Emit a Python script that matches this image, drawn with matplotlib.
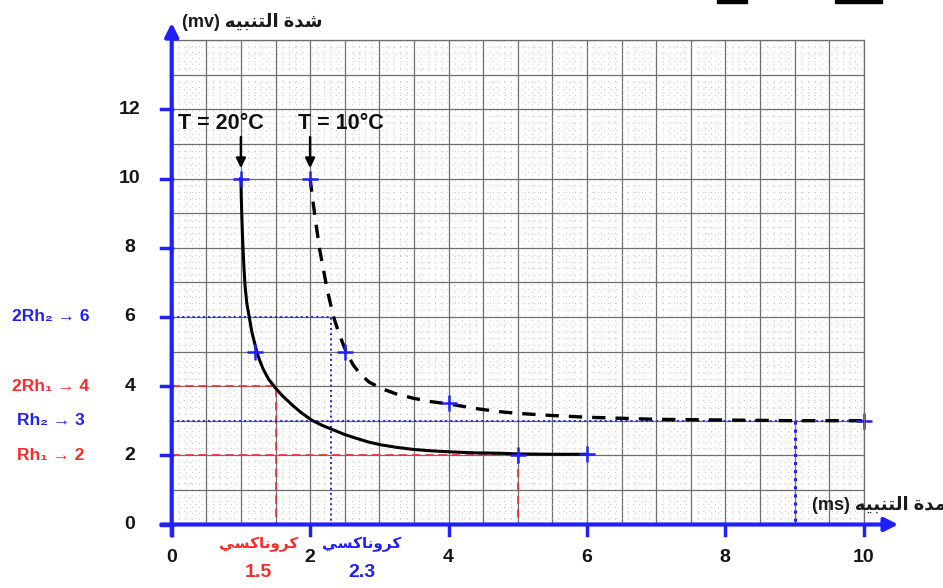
import numpy as np
import matplotlib.pyplot as plt
from matplotlib.ticker import MultipleLocator
from matplotlib.patches import Rectangle

plt.rcParams['font.family'] = ['Liberation Sans', 'DejaVu Sans']
plt.rcParams['font.weight'] = 'bold'

# Arabic text given in presentation forms, visual (left-to-right) order,
# since matplotlib does no shaping / bidi
ar_intensity = "\uFEEA\uFEF4\uFE92\uFEE8\uFE98\uFEDF\uFE8D \uFE93\uFEAA\uFEB7"   # شدة التنبيه
ar_duration = "\uFEEA\uFEF4\uFE92\uFEE8\uFE98\uFEDF\uFE8D \uFE93\uFEAA\uFEE3"    # مدة التنبيه
ar_chronaxie = "\uFEF2\uFEB4\uFEDB\uFE8E\uFEE7\uFEED\uFEAE\uFEDB"                 # كروناكسي

# courbe T = 20°C (trait plein)
t20_x = [1.0, 1.005, 1.012, 1.02, 1.03, 1.045, 1.06, 1.085, 1.12, 1.16, 1.23,
         1.27, 1.32, 1.4, 1.51, 1.6, 1.76, 1.88, 2.02, 2.17, 2.34, 2.5, 2.67,
         2.85, 3.03, 3.25, 3.49, 3.75, 4.02, 4.4, 4.74, 5.0, 5.5, 6.0]
t20_y = [10.0, 9.5, 9.0, 8.5, 8.0, 7.4, 6.9, 6.4, 6.0, 5.55, 4.99,
         4.75, 4.5, 4.2, 3.92, 3.72, 3.42, 3.22, 3.02, 2.87, 2.73, 2.6, 2.49,
         2.38, 2.30, 2.23, 2.17, 2.13, 2.10, 2.07, 2.06, 2.04, 2.03, 2.03]
t20_pts_x = [1.0, 1.2, 5.0, 6.0]
t20_pts_y = [10.0, 5.0, 2.0, 2.03]

# courbe T = 10°C (pointillés)
t10_x = [2.0, 2.07, 2.14, 2.23, 2.28, 2.34, 2.42, 2.52, 2.62, 2.72, 2.85, 3.03,
         3.25, 3.49, 3.75, 4.02, 4.4, 4.74, 5.01, 5.5, 6.0, 7.0, 8.0, 9.0, 10.0]
t10_y = [10.0, 8.9, 7.93, 6.97, 6.5, 6.0, 5.5, 5.0, 4.62, 4.36, 4.12, 3.93,
         3.77, 3.65, 3.55, 3.48, 3.35, 3.26, 3.21, 3.15, 3.1, 3.04, 3.02, 3.0, 3.0]
t10_pts_x = [2.0, 2.5, 4.0, 10.0]
t10_pts_y = [10.0, 5.0, 3.5, 3.0]

# rhéobase / chronaxie
rh1, chron1 = 2, 1.5
rh2, chron2 = 3, 2.3
util2 = 9

xticks = [0, 2, 4, 6, 8, 10]
yticks = [0, 2, 4, 6, 8, 10, 12]
side_labels = ["2Rh\u2082 \u2192 6", "2Rh\u2081 \u2192 4", "Rh\u2082 \u2192 3", "Rh\u2081 \u2192 2"]
side_values = [6, 4, 3, 2]

blue = '#2020ff'
red = '#ff2a2a'

fig = plt.figure(figsize=(9.43, 5.88), dpi=100)
ax = fig.add_axes([0.18208, 0.10799, 0.73383, 0.82381])
ax.set_xlim(0, 10)
ax.set_ylim(0, 14)

# papier millimétré
ax.xaxis.set_major_locator(MultipleLocator(0.5))
ax.yaxis.set_major_locator(MultipleLocator(1))
ax.xaxis.set_minor_locator(MultipleLocator(0.1))
ax.yaxis.set_minor_locator(MultipleLocator(0.2))
ax.grid(which='major', color='#6e6e6e', lw=0.9)
ax.grid(which='minor', color='#c4c4c4', lw=0.7, linestyle=(0, (1, 5)))
ax.tick_params(which='both', length=0, labelbottom=False, labelleft=False)
ax.set_axisbelow(True)
for s in ['left', 'bottom']:
    ax.spines[s].set_visible(False)
for s in ['top', 'right']:
    ax.spines[s].set_color('#6e6e6e')
    ax.spines[s].set_linewidth(0.9)

# lignes de lecture
ax.plot([0, chron1, chron1], [2 * rh1, 2 * rh1, 0], color=red, lw=1.2, dashes=(5, 3))
ax.plot([0, 5, 5], [rh1, rh1, 0], color=red, lw=1.2, dashes=(5, 3))
ax.plot([0, chron2, chron2], [2 * rh2, 2 * rh2, 0], color=blue, lw=1.4, ls=':')
ax.plot([0, 10], [rh2, rh2], color=blue, lw=1.4, ls=':')
ax.plot([util2, util2], [rh2, 0], color=blue, lw=2.2, ls=':')

# courbes
ax.plot(t20_x, t20_y, color='black', lw=2.2)
ax.plot(t10_x, t10_y, color='black', lw=2.4, dashes=(4, 3))
ax.plot(t20_pts_x, t20_pts_y, '+', color=blue, ms=12, mew=1.8, clip_on=False)
ax.plot(t10_pts_x, t10_pts_y, '+', color=blue, ms=12, mew=1.8, clip_on=False)

# températures
for x0, xt, lab in [(1, 0.09, 'T = 20°C'), (2, 1.83, 'T = 10°C')]:
    ax.annotate('', xy=(x0, 10.3), xytext=(x0, 11.2),
                arrowprops=dict(arrowstyle='-|>', color='black', lw=1.8,
                                mutation_scale=14, shrinkA=0, shrinkB=0))
    ax.text(xt, 11.6, lab, ha='left', va='center', fontsize=15.5,
            color='#111111')

# axes bleus avec flèches
ax.annotate('', xy=(0, 14.5), xytext=(0, -0.32), annotation_clip=False,
            arrowprops=dict(arrowstyle='-|>', color=blue, lw=3,
                            mutation_scale=20, shrinkA=0, shrinkB=0))
ax.annotate('', xy=(10.5, 0), xytext=(-0.15, 0), annotation_clip=False,
            arrowprops=dict(arrowstyle='-|>', color=blue, lw=3,
                            mutation_scale=20, shrinkA=0, shrinkB=0))
for v in xticks:
    ax.plot([v, v], [0, -0.3], color=blue, lw=2.5, clip_on=False)
    ax.annotate(str(v), xy=(v, 0), xytext=(0, -33), textcoords='offset pixels',
                ha='center', va='center', fontsize=14, color='#151515')
for v in yticks:
    ax.plot([-0.15, 0], [v, v], color=blue, lw=2.5, clip_on=False)
    ax.annotate(str(v), xy=(0, v), xytext=(-42, 0), textcoords='offset pixels',
                ha='center', va='center', fontsize=14, color='#151515')

for lab, v in zip(side_labels, side_values):
    col = red if lab.startswith(('2Rh\u2081', 'Rh\u2081')) else blue
    ax.annotate(lab, xy=(0, v), xytext=(-121, 0), textcoords='offset pixels',
                ha='center', va='center', fontsize=12.5, color=col)

# chronaxies
for xc, col in [(chron1, red), (chron2, blue)]:
    dx = -17 if col == red else 31
    ax.annotate(ar_chronaxie, xy=(xc, 0), xytext=(dx, -20),
                textcoords='offset pixels', ha='center', va='center',
                fontsize=11, color=col)
    ax.annotate(str(xc), xy=(xc, 0), xytext=(dx, -48),
                textcoords='offset pixels', ha='center', va='center',
                fontsize=14, color=col)

# titres des axes
fig.text(182 / 943, 1 - 22 / 588, '(mv) ' + ar_intensity, ha='left', va='center',
         fontsize=13, color='#1a1a1a')
fig.text(812 / 943, 1 - 505 / 588, '(ms) ' + ar_duration, ha='left', va='center',
         fontsize=13, color='#1a1a1a')

# traits noirs en haut à droite (soulignement de la page)
fig.add_artist(Rectangle((717 / 943, 1 - 3 / 588), 30 / 943, 3 / 588,
                         transform=fig.transFigure, color='black'))
fig.add_artist(Rectangle((835 / 943, 1 - 3 / 588), 47 / 943, 3 / 588,
                         transform=fig.transFigure, color='black'))

fig.savefig('out.png', dpi=100)
